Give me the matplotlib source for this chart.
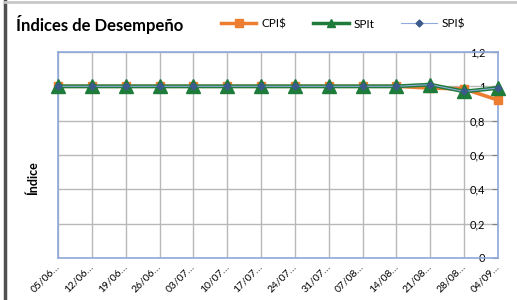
import matplotlib
matplotlib.use("Agg")
import matplotlib.pyplot as plt
from matplotlib.lines import Line2D
from matplotlib.ticker import FuncFormatter, MultipleLocator

plt.rcParams['font.family'] = ['Lato', 'DejaVu Sans']

categories = ["05/06…", "12/06…", "19/06…", "26/06…", "03/07…", "10/07…", "17/07…",
              "24/07…", "31/07…", "07/08…", "14/08…", "21/08…", "28/08…", "04/09…"]
cpi = [1, 1, 1, 1, 1, 1, 1, 1, 1, 1, 1, 0.99, 0.985, 0.92]
spit = [1, 1, 1, 1, 1, 1, 1, 1, 1, 1, 1, 1.01, 0.97, 0.99]
spid = [1, 1, 1, 1, 1, 1, 1, 1, 1, 1, 1, 1.01, 0.97, 0.99]

W, H = 517, 300
fig = plt.figure(figsize=(W / 100, H / 100), dpi=100)
ax = fig.add_axes([58 / W, 1 - 258 / H, (498 - 58) / W, (258 - 52) / H])

x = list(range(len(categories)))
c_orange = '#ED7D31'
c_green = '#1E7B3A'
c_blue = '#8FAADC'
c_diam = '#3B5B8C'

ax.plot(x, cpi, color=c_orange, lw=2.6, marker='s', ms=6, mfc=c_orange, mec=c_orange, zorder=3,
        clip_on=False, snap=False)
ax.plot(x, spit, color=c_green, lw=2.8, marker='^', ms=10, mfc=c_green, mec=c_green, zorder=4,
        clip_on=False, snap=False)
ax.plot(x, spid, color=c_blue, lw=0.8, marker='D', ms=3.5, mfc=c_diam, mec=c_diam, zorder=5,
        clip_on=False, snap=False)

ax.set_xlim(0, len(categories) - 1)
ax.set_ylim(0, 1.2)
ax.yaxis.set_major_locator(MultipleLocator(0.2))
ax.yaxis.set_major_formatter(FuncFormatter(lambda v, p: ('%g' % round(v, 1)).replace('.', ',')))
ax.set_xticks(x)
ax.set_xticklabels(categories, rotation=45, ha='right', va='center', rotation_mode='anchor', fontsize=7.5)
ax.tick_params(axis='x', length=0, pad=5)

ax.yaxis.tick_right()
ax.tick_params(axis='y', direction='in', length=4, color='#808080', labelsize=8, pad=-9)
for lab in ax.get_yticklabels():
    lab.set_horizontalalignment('right')

ax.grid(True, color='#B8B8B8', lw=1)
ax.set_axisbelow(True)
for s in ax.spines.values():
    s.set_color('#8EA9DB')
    s.set_linewidth(1.2)

fig.text(16 / W, 1 - 24 / H, "Índices de Desempeño", fontsize=12, fontweight='bold', va='center', ha='left')
fig.text(33 / W, 1 - 178 / H, "Índice", fontsize=9, fontweight='bold', rotation=90, va='center', ha='center')

handles = [
    Line2D([], [], color=c_orange, lw=2.5, marker='s', ms=6, mfc=c_orange, mec=c_orange),
    Line2D([], [], color=c_green, lw=2.5, marker='^', ms=6, mfc=c_green, mec=c_green),
    Line2D([], [], color=c_blue, lw=0.8, marker='D', ms=3.5, mfc=c_diam, mec=c_diam),
]
fig.legend(handles, ["CPI$", "SPIt", "SPI$"], loc='center left', bbox_to_anchor=(221 / W, 1 - 24 / H),
           ncol=3, frameon=False, fontsize=8.5, handlelength=3.0, handletextpad=0.4, columnspacing=2.3,
           borderpad=0, borderaxespad=0)

fig.add_artist(Line2D([5 / W, 5 / W], [0, 1], color='#505050', lw=2.5, transform=fig.transFigure))
fig.add_artist(Line2D([5 / W, 1], [1 - 2 / H, 1 - 2 / H], color='#C8C8C8', lw=2, transform=fig.transFigure))

fig.savefig('out.png', dpi=100)
